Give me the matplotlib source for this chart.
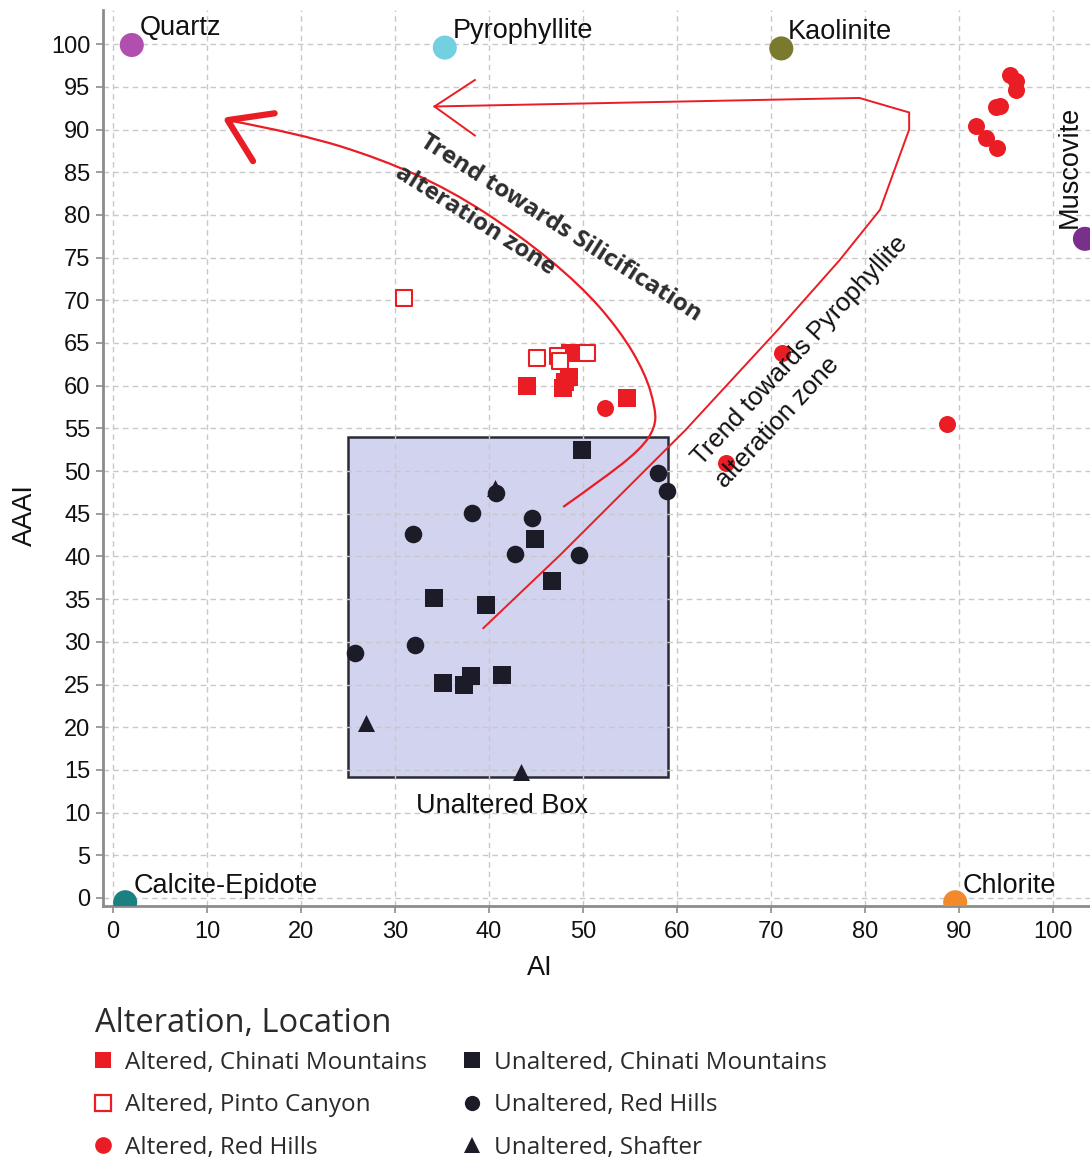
import matplotlib
matplotlib.use("Agg")
import matplotlib.pyplot as plt
from matplotlib.path import Path
from matplotlib.patches import PathPatch, Rectangle
from matplotlib.lines import Line2D
import numpy as np

# ---------------- data ----------------
alt_chinati_x = [44.0, 48.6, 48.5, 48.1, 47.9, 54.7]
alt_chinati_y = [60.0, 63.8, 61.0, 60.4, 59.7, 58.5]

alt_pinto_x = [31.0, 45.1, 47.3, 47.6, 50.4]
alt_pinto_y = [70.3, 63.2, 63.5, 62.9, 63.8]

alt_redhills_x = [52.3, 71.2, 88.7, 65.2, 95.4, 96.1, 96.1, 94.4, 93.9, 91.8, 92.9, 94.0]
alt_redhills_y = [57.4, 63.8, 55.5, 50.9, 96.4, 95.7, 94.6, 92.7, 92.6, 90.4, 89.0, 87.8]

unalt_chinati_x = [49.9, 44.9, 46.7, 34.1, 39.7, 35.1, 37.3, 38.1, 41.4]
unalt_chinati_y = [52.5, 42.0, 37.1, 35.1, 34.3, 25.2, 24.9, 26.0, 26.1]

unalt_redhills_x = [58.0, 58.9, 40.8, 38.2, 44.6, 31.9, 42.8, 49.6, 32.1, 25.7]
unalt_redhills_y = [49.8, 47.7, 47.4, 45.1, 44.5, 42.6, 40.3, 40.2, 29.6, 28.7]

unalt_shafter_x = [26.9, 43.4, 40.6]
unalt_shafter_y = [20.5, 14.8, 48.0]

minerals = ["Quartz", "Pyrophyllite", "Kaolinite", "Muscovite", "Calcite-Epidote", "Chlorite"]
mineral_x = [2.0, 35.3, 71.1, 103.4, 1.3, 89.6]
mineral_y = [99.9, 99.6, 99.5, 77.2, -0.5, -0.5]
mineral_colors = ["#b24fae", "#72d0e0", "#7a7a2e", "#7a2f8c", "#1b8080", "#f28a2c"]

# unaltered box (AI range, AAAI range)
box_ai = [25.0, 59.0]
box_aaai = [14.2, 54.0]

# annotation trend paths (AI, AAAI)
silic_x = [47.9, 51.9, 56.1, 57.7, 57.7, 56.6, 53.9, 49.7, 43.3, 35.9, 28.4, 19.9, 12.2]
silic_y = [45.8, 48.9, 52.5, 55.1, 57.4, 61.5, 66.5, 71.8, 77.6, 82.9, 86.6, 89.5, 91.1]
pyro_x = [39.4, 47.6, 60.9, 70.7, 77.3, 81.6, 84.7, 84.7, 79.4, 34.2]
pyro_y = [31.6, 40.2, 54.8, 66.5, 74.7, 80.6, 90.0, 92.0, 93.7, 92.7]

legend_title = "Alteration, Location"
legend_labels = ["Altered, Chinati Mountains", "Altered, Pinto Canyon", "Altered, Red Hills",
                 "Unaltered, Chinati Mountains", "Unaltered, Red Hills", "Unaltered, Shafter"]

RED = "#ea1c24"
BLK = "#1c1c28"

plt.rcParams["font.family"] = ["Liberation Sans", "DejaVu Sans"]

fig = plt.figure(figsize=(10.9, 11.59), dpi=100)
ax = fig.add_axes([103 / 1090, 1 - 906 / 1159, (1090 - 103) / 1090, (906 - 10) / 1159])

ax.set_xlim(-1.06, 103.94)
ax.set_ylim(-0.94, 104.0)
ax.set_xticks(np.arange(0, 101, 10))
ax.set_yticks(np.arange(0, 101, 5))
ax.grid(True, color="#c8c8c8", linestyle=(0, (4, 3)), linewidth=1.0)
for s in ["top", "right"]:
    ax.spines[s].set_visible(False)
for s in ["left", "bottom"]:
    ax.spines[s].set_color("#8c8c8c")
    ax.spines[s].set_linewidth(2.0)
ax.tick_params(axis="both", colors="#8c8c8c", labelcolor="#111111", labelsize=17,
               length=5, width=1.2, pad=4)
ax.tick_params(axis="x", pad=6)

# unaltered box
ax.add_patch(Rectangle((box_ai[0], box_aaai[0]), box_ai[1] - box_ai[0], box_aaai[1] - box_aaai[0],
                       facecolor="#d2d3ee", edgecolor="#2a2a35", linewidth=1.8, zorder=1))
ax.text(41.4, 10.8, "Unaltered Box", ha="center", va="center", fontsize=19.5, color="#111111")

# trend paths (smoothed via quadratic bezier through midpoints)
def smooth_path(xs, ys):
    pts = np.column_stack([xs, ys])
    verts = [pts[0]]
    codes = [Path.MOVETO]
    for i in range(1, len(pts) - 1):
        mid = (pts[i] + pts[i + 1]) / 2 if i < len(pts) - 2 else pts[i + 1]
        verts += [pts[i], mid]
        codes += [Path.CURVE3, Path.CURVE3]
    return Path(verts, codes)

ax.add_patch(PathPatch(smooth_path(silic_x, silic_y), facecolor="none", edgecolor=RED, linewidth=1.6, zorder=3))
ax.plot(pyro_x, pyro_y, color=RED, linewidth=1.4, zorder=3, solid_joinstyle="miter")
# arrow heads
ax.plot([17.2, 12.2, 14.9], [91.9, 91.1, 86.3], color=RED, linewidth=4.5, solid_capstyle="round",
        solid_joinstyle="round", zorder=3)
ax.plot([38.5, 34.2, 38.5], [95.8, 92.7, 89.3], color=RED, linewidth=1.4, zorder=3)

# data series
ax.scatter(alt_chinati_x, alt_chinati_y, marker="s", s=150, color=RED, linewidths=0, zorder=4)
ax.scatter(alt_pinto_x, alt_pinto_y, marker="s", s=120, facecolors="white", edgecolors=RED, linewidths=1.5, zorder=4)
ax.scatter(alt_redhills_x, alt_redhills_y, marker="o", s=150, color=RED, linewidths=0, zorder=4)
ax.scatter(unalt_chinati_x, unalt_chinati_y, marker="s", s=150, color=BLK, linewidths=0, zorder=4)
ax.scatter(unalt_redhills_x, unalt_redhills_y, marker="o", s=160, color=BLK, linewidths=0, zorder=4)
ax.scatter(unalt_shafter_x, unalt_shafter_y, marker="^", s=150, color=BLK, linewidths=0, zorder=3.9)

# endmember minerals
ax.scatter(mineral_x, mineral_y, s=300, c=mineral_colors, linewidths=0, zorder=5, clip_on=True)
offsets = [(6, 12), (6, 12), (5, 12), None, (6, 12), (5, 12)]
for name, x, y, off in zip(minerals, mineral_x, mineral_y, offsets):
    if off is None:
        ax.annotate(name, (x, y), xytext=(-11, 8), textcoords="offset points", rotation=90,
                    ha="center", va="bottom", fontsize=19.5, color="#111111", zorder=6)
    else:
        ax.annotate(name, (x, y), xytext=off, textcoords="offset points",
                    ha="left", va="center", fontsize=19.5, color="#111111", zorder=6)

# trend labels
ax.text(47.6, 78.5, "Trend towards Silicification", rotation=-32.5, rotation_mode="anchor",
        ha="center", va="center", fontsize=17.5, fontweight="bold", color="#2e2e2e",
        family=["Open Sans", "DejaVu Sans"], zorder=6)
ax.text(38.5, 79.3, "alteration zone", rotation=-32.5, rotation_mode="anchor",
        ha="center", va="center", fontsize=17.5, fontweight="bold", color="#2e2e2e",
        family=["Open Sans", "DejaVu Sans"], zorder=6)
ax.text(73.1, 64.1, "Trend towards Pyrophyllite", rotation=47, rotation_mode="anchor",
        ha="center", va="center", fontsize=18.5, color="#111111", zorder=6)
ax.text(70.7, 55.7, "alteration zone", rotation=47, rotation_mode="anchor",
        ha="center", va="center", fontsize=18.5, color="#111111", zorder=6)

# axis labels
ax.set_xlabel("AI", fontsize=19.5, color="#111111")
ax.xaxis.set_label_coords((540 - 103) / 987, (906 - 968) / 896)
ax.xaxis.label.set_va("center")
ax.set_ylabel("AAAI", fontsize=19.5, color="#111111")
ax.yaxis.set_label_coords((25 - 103) / 987, (906 - 515) / 896)
ax.yaxis.label.set_va("center")

# legend
handles = [
    Line2D([], [], linestyle="none", marker="s", markersize=12, color=RED, markeredgewidth=0),
    Line2D([], [], linestyle="none", marker="s", markersize=11, markerfacecolor="white", markeredgecolor=RED, markeredgewidth=1.6),
    Line2D([], [], linestyle="none", marker="o", markersize=12, color=RED, markeredgewidth=0),
    Line2D([], [], linestyle="none", marker="s", markersize=11, color=BLK, markeredgewidth=0),
    Line2D([], [], linestyle="none", marker="o", markersize=11, color=BLK, markeredgewidth=0),
    Line2D([], [], linestyle="none", marker="^", markersize=11, color=BLK, markeredgewidth=0),
]
fig.text(95 / 1090, 1 - 1023 / 1159, legend_title, ha="left", va="center", fontsize=23.5,
         family=["Open Sans", "DejaVu Sans"], color="#2a2a2a")
leg = fig.legend(handles, legend_labels, loc="upper left", bbox_to_anchor=(91 / 1090, 1 - 1051 / 1159),
                 ncol=2, frameon=False, borderpad=0, borderaxespad=0,
                 prop={"family": ["Open Sans", "DejaVu Sans"], "size": 17.5},
                 handletextpad=0.38, columnspacing=1.38, labelspacing=0.76, handlelength=1.0)
for t in leg.get_texts():
    t.set_color("#2a2a2a")

fig.savefig("out.png", dpi=100)
